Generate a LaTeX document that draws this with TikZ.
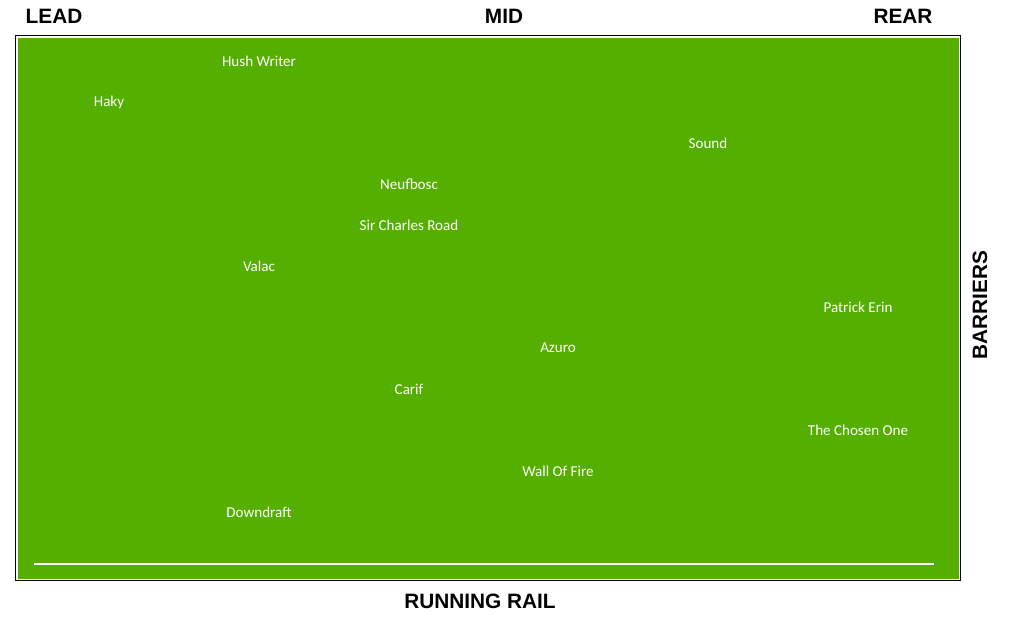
\documentclass[tikz,border=0pt]{standalone}
\usepackage{fontspec}
\newfontfamily\namefont{Carlito}
\newfontfamily\headfont{Liberation Sans}
\definecolor{turf}{RGB}{85,175,0}
\tikzset{
  horse/.style={text=white,font=\namefont\fontsize{11.3pt}{13pt}\selectfont,inner sep=0pt},
  head/.style={text=black,font=\headfont\bfseries\fontsize{15.6pt}{18pt}\selectfont,inner sep=0pt}
}
\begin{document}
\begin{tikzpicture}[x=0.75pt,y=-0.75pt]
\useasboundingbox (0,0) rectangle (1024,622);
\fill[white] (0,0) rectangle (1024,622);
\draw[black,line width=1.2pt,fill=white] (15.5,35.5) rectangle (960.5,580.5);
\fill[turf] (17.5,37.5) rectangle (958.5,578.5);
\coordinate (railL) at (34,564);
\coordinate (railR) at (934,564);
\draw[white,line width=1.2pt] (railL) -- (railR);
\node[head] (lead) at (54,16) {LEAD};
\node[head] (mid) at (504,16) {MID};
\node[head] (rear) at (903,16) {REAR};
\node[head,rotate=90] (barriers) at (980,305) {BARRIERS};
\node[head] (rail) at (480,601) {RUNNING RAIL};
\node[horse] (h1) at (259,61) {Hush Writer};
\node[horse] (h2) at (109,102) {Haky};
\node[horse] (h3) at (708,143) {Sound};
\node[horse] (h4) at (409,184) {Neufbosc};
\node[horse] (h5) at (409,225) {Sir Charles Road};
\node[horse] (h6) at (259,266) {Valac};
\node[horse] (h7) at (858,307) {Patrick Erin};
\node[horse] (h8) at (558,348) {Azuro};
\node[horse] (h9) at (409,389) {Carif};
\node[horse] (h10) at (858,430) {The Chosen One};
\node[horse] (h11) at (558,471) {Wall Of Fire};
\node[horse] (h12) at (259,512) {Downdraft};
\end{tikzpicture}
\end{document}
